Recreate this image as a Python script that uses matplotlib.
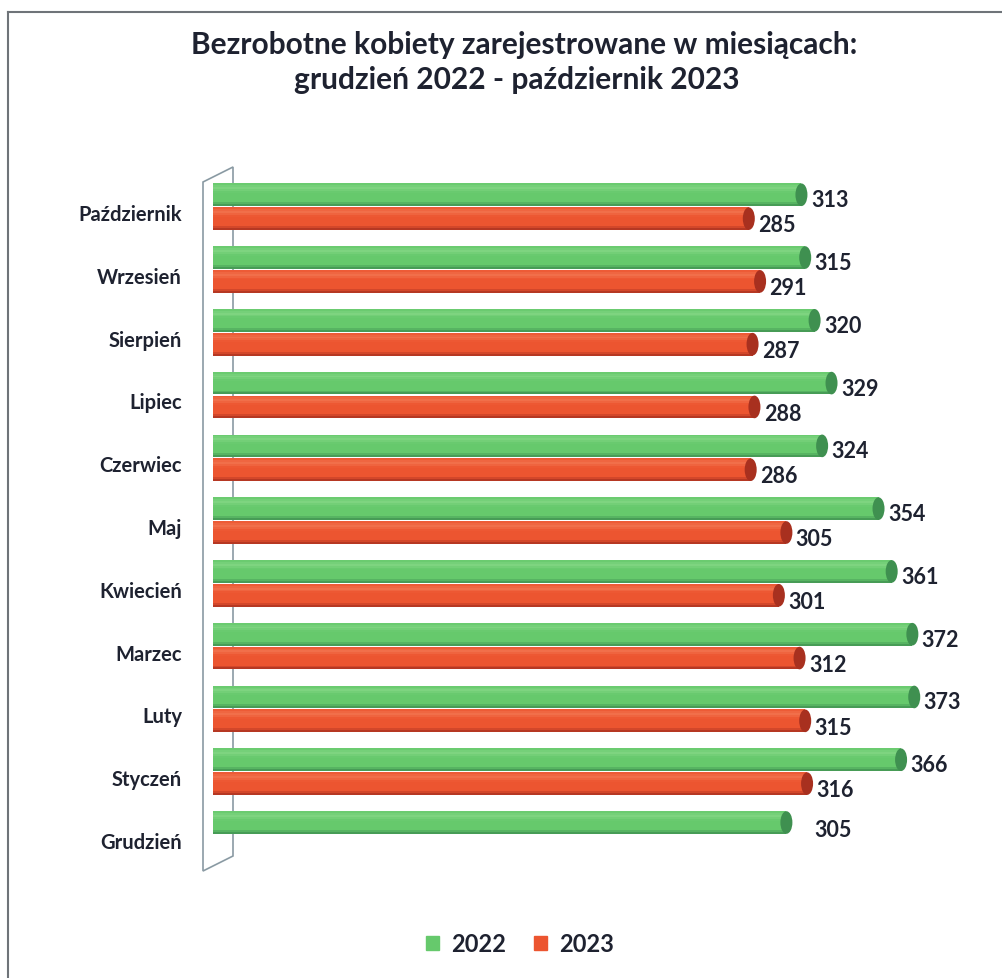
import numpy as np
import matplotlib.pyplot as plt
from matplotlib.patches import Ellipse, Polygon
from matplotlib.lines import Line2D
from matplotlib.colors import to_rgb

# data
months = ["Październik", "Wrzesień", "Sierpień", "Lipiec", "Czerwiec", "Maj",
          "Kwiecień", "Marzec", "Luty", "Styczeń", "Grudzień"]
v2022 = [313, 315, 320, 329, 324, 354, 361, 372, 373, 366, 305]
v2023 = [285, 291, 287, 288, 286, 305, 301, 312, 315, 316, None]

GREEN, GREEN_D, GREEN_L = "#66c96c", "#3f9050", "#8fdc8f"
RED, RED_D, RED_L = "#ec5530", "#a8301f", "#f5825d"
FONT = "Lato"
TXT = "#1e2230"

W, H = 1003, 979
fig = plt.figure(figsize=(W / 100, H / 100), dpi=100)
fig.patch.set_facecolor("white")


def fx(px):
    return px / W


def fy(py):
    return 1 - py / H


# picture border (left and top)
fig.add_artist(Line2D([fx(8), fx(8)], [fy(13), fy(979)], color="#6f7479", lw=1.5))
fig.add_artist(Line2D([fx(8), fx(1003)], [fy(13), fy(13)], color="#6f7479", lw=1.5))

# 3D wall on the left, behind the bars
wall = Polygon([(fx(203), fy(183)), (fx(233), fy(168)), (fx(233), fy(857)),
                (fx(203), fy(872))], closed=True, transform=fig.transFigure,
               facecolor="white", edgecolor="#8a9aa3", lw=1.2, zorder=-1)
fig.add_artist(wall)

ax = fig.add_axes([fx(213), fy(875), fx(965) - fx(213), (875 - 165) / H])
ax.set_xlim(0, 400)
ax.set_ylim(10.51, -0.80)
ax.axis("off")
ax.patch.set_alpha(0)

bh = 0.36
off_g, off_r = -0.31, 0.07
xs_per_px = 400 / 752


def mix(c1, c2, t):
    a, b = np.array(to_rgb(c1)), np.array(to_rgb(c2))
    return a + (b - a) * t


def cylinder(y, v, base, dark, light):
    n = 12
    top = y - bh / 2
    for k in range(n):
        t = (k + 0.5) / n
        if t < 0.4:
            col = mix(base, light, max(0.0, 1 - abs(t - 0.2) / 0.2) * 0.6)
        elif t < 0.8:
            col = mix(base, base, 0)
        else:
            col = mix(base, dark, (t - 0.8) / 0.2)
        ax.barh(top + (k + 0.5) * bh / n, v, height=bh / n * 1.05, color=col,
                edgecolor="none", zorder=2)
    cap = Ellipse((v, y), width=12 * xs_per_px, height=bh, facecolor=dark,
                  edgecolor="none", zorder=4)
    ax.add_patch(cap)


for i, m in enumerate(months):
    g = v2022[i]
    r = v2023[i]
    cylinder(i + off_g, g, GREEN, GREEN_D, GREEN_L)
    if r is not None:
        cylinder(i + off_r, r, RED, RED_D, RED_L)
        ax.text(g + 5, i + off_g + 0.08, str(g), ha="left", va="center",
                fontsize=15.5, fontweight="bold", family=FONT, color=TXT)
        ax.text(r + 5, i + off_r + 0.1, str(r), ha="left", va="center",
                fontsize=15.5, fontweight="bold", family=FONT, color=TXT)
    else:
        ax.text(g + 15, i - 0.2, str(g), ha="left", va="center",
                fontsize=15.5, fontweight="bold", family=FONT, color=TXT)
    fig.text(fx(182), fy(215 + 62.8 * i), m, ha="right", va="center",
             fontsize=14.5, fontweight="bold", family=FONT, color=TXT)

# title
fig.text(fx(524), fy(45), "Bezrobotne kobiety zarejestrowane w miesiącach:",
         ha="center", va="center", fontsize=21.5, fontweight="bold",
         family=FONT, color=TXT)
fig.text(fx(517), fy(80), "grudzień 2022 - październik 2023",
         ha="center", va="center", fontsize=21.5, fontweight="bold",
         family=FONT, color=TXT)

# legend
handles = [plt.Rectangle((0, 0), 1, 1, color=GREEN),
           plt.Rectangle((0, 0), 1, 1, color=RED)]
leg = fig.legend(handles, ["2022", "2023"], loc="center",
                 bbox_to_anchor=(fx(520), fy(945)), ncol=2, frameon=False,
                 handlelength=0.55, handleheight=0.55, handletextpad=0.5,
                 columnspacing=1.2, prop={"family": FONT, "weight": "bold",
                                          "size": 17})
for t in leg.get_texts():
    t.set_color(TXT)

fig.savefig("out.png", dpi=100)
